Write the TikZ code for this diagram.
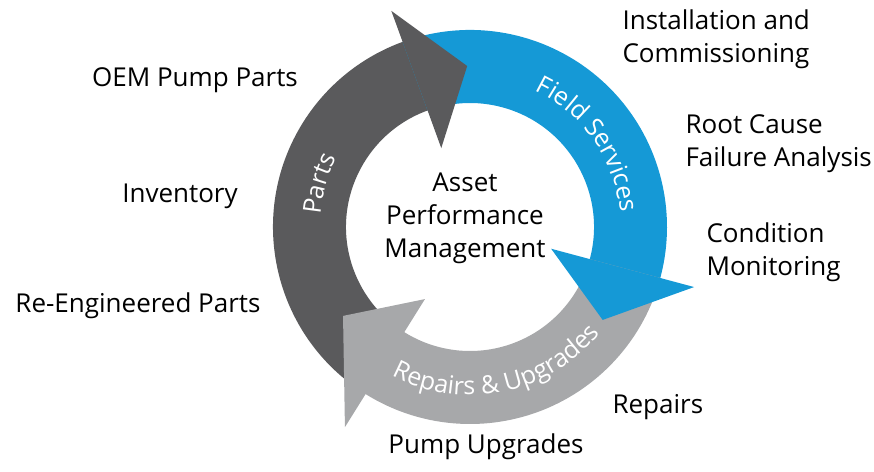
\documentclass[tikz,border=0pt]{standalone}
\usepackage{fontspec}
\setmainfont{Open Sans}
\definecolor{fieldblue}{HTML}{1599D6}
\definecolor{partsgray}{HTML}{5A5A5C}
\definecolor{repairgray}{HTML}{A7A8AA}
\newcommand{\labelfont}{\fontsize{26}{33}\selectfont}
\newcommand{\bandfont}{\fontsize{25}{28}\selectfont}
% #1 name, #2 start angle, #3 baseline radius, #4 +1 ccw / -1 cw, #5 letters
\newcommand{\bandtext}[5]{%
  \gdef\chpos{0}
  \foreach \ch [count=\i] in {#5} {
    \pgfinterruptpicture\global\setbox1=\hbox{\bandfont\ch}\endpgfinterruptpicture
    \pgfmathsetmacro{\chw}{\the\wd1}
    \pgfmathsetmacro{\chang}{#2+#4*(\chpos+0.5*\chw)/#3*57.2958}
    \node[letter, rotate=\chang+#4*90] (#1-\i) at (\chang:#3) {\ch};
    \pgfmathsetmacro{\chnext}{\chpos+\chw}
    \global\let\chpos\chnext
  }}

\begin{document}
\begin{tikzpicture}[x=1pt,y=1pt,
    lbl/.style={font=\labelfont, align=left, anchor=base west},
    letter/.style={font=\bandfont, text=white, inner sep=0pt, anchor=base}]
    \useasboundingbox (-470,-244) rectangle (404,227);
    \fill[partsgray] (238:197) arc[start angle=238, end angle=107, radius=197] -- (107:124) arc[start angle=107, end angle=238, radius=124] -- cycle;
    \fill[fieldblue] (110:197) arc[start angle=110, end angle=-18, radius=197] -- (-18:124) arc[start angle=-18, end angle=110, radius=124] -- cycle;
    \fill[repairgray] (-15:197) arc[start angle=-15, end angle=-125, radius=197] -- (-125:124) arc[start angle=-125, end angle=-15, radius=124] -- cycle;
    \fill[partsgray] (110:84) -- (110:230) -- (91:161) -- cycle;
    \fill[fieldblue] (-15:84) -- (-15:232) -- (-35:162) -- cycle;
    \fill[repairgray] (-122:85) -- (-122:236) -- (-145:155) -- cycle;
    \bandtext{parts}{175.4}{150}{-1}{P,a,r,t,s}
    \bandtext{field}{64.6}{151}{-1}{F,i,e,l,d,\ ,S,e,r,v,i,c,e,s}
    \bandtext{repair}{242.1}{168}{1}{R,e,p,a,i,r,s,\ ,\&,\ ,U,p,g,r,a,d,e,s}
    \node[font=\labelfont, align=center, anchor=base] (apm) at (-5,-30) {Asset\\Performance\\Management};
    \node[font=\labelfont, anchor=base] (oem) at (-275,140) {OEM Pump Parts};
    \node[font=\labelfont, anchor=base] (inventory) at (-290,25) {Inventory};
    \node[font=\labelfont, anchor=base] (reeng) at (-332,-85) {Re-Engineered Parts};
    \node[lbl] (install) at (149,164) {Installation and\\Commissioning};
    \node[lbl] (rootcause) at (212,60) {Root Cause\\Failure Analysis};
    \node[lbl] (condition) at (233,-48) {Condition\\Monitoring};
    \node[lbl] (repairs) at (139,-186) {Repairs};
    \node[font=\labelfont, anchor=base] (upgrades) at (16,-226) {Pump Upgrades};
\end{tikzpicture}
\end{document}
